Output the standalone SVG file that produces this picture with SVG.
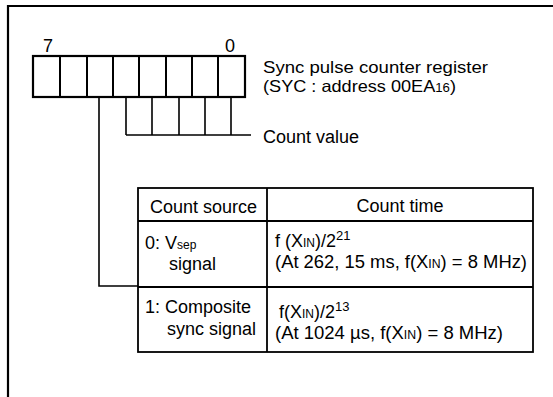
<svg xmlns="http://www.w3.org/2000/svg" width="553" height="397" viewBox="0 0 553 397">
<style>
text{font-family:"Liberation Sans",Arial,sans-serif;font-size:18px;fill:#000}
.t{font-size:16.5px}
.sm{font-size:12px}
.sup{font-size:13px}
.frame{fill:none;stroke:#000;stroke-width:2.2}
.reg{fill:#fff;stroke:#000;stroke-width:2.2}
.div{stroke:#000;stroke-width:2}
.ln{fill:none;stroke:#000;stroke-width:1.6}
.tb{fill:none;stroke:#000;stroke-width:1.8}
</style>
<rect width="553" height="397" fill="#fff"/>
<path class="frame" d="M8,397 V6 H553"/>
<g id="register">
<rect class="reg" x="33" y="56" width="212" height="41"/>
<path class="div" d="M60,56V97M87,56V97M113,56V97M139,56V97M166,56V97M192,56V97M218,56V97"/>
<text x="43" y="52">7</text>
<text x="225" y="52">0</text>
</g>
<g id="register-label">
<text class="t" x="263" y="73" textLength="225" lengthAdjust="spacingAndGlyphs">Sync pulse counter register</text>
<text class="t" x="263" y="91.5" textLength="193" lengthAdjust="spacingAndGlyphs">(SYC : address 00EA<tspan class="sm">16</tspan>)</text>
</g>
<g id="connectors">
<path class="ln" d="M126,97V135M152,97V135M179,97V135M205,97V135M231,97V135M126,135H251"/>
<path class="ln" d="M99,97V286H138"/>
</g>
<g id="count-value">
<text x="263" y="143">Count value</text>
</g>
<g id="table">
<rect class="tb" x="138" y="188" width="395" height="164"/>
<path class="tb" d="M267,188V352M138,221H533M138,287H533"/>
<text x="150" y="213">Count source</text>
<text x="400" y="212" text-anchor="middle">Count time</text>
<text x="145" y="249">0: V<tspan class="sm">sep</tspan></text>
<text x="169" y="270">signal</text>
<text x="145" y="313">1: Composite</text>
<text x="167" y="335">sync signal</text>
<text x="275" y="247">f (X<tspan class="sm">IN</tspan>)/2<tspan class="sup" dy="-7">21</tspan></text>
<text x="275" y="268" textLength="252" lengthAdjust="spacingAndGlyphs">(At 262, 15 ms, f(X<tspan class="sm">IN</tspan>) = 8 MHz)</text>
<text x="279" y="318">f(X<tspan class="sm">IN</tspan>)/2<tspan class="sup" dy="-7">13</tspan></text>
<text x="275" y="339" textLength="228" lengthAdjust="spacingAndGlyphs">(At 1024 µs, f(X<tspan class="sm">IN</tspan>) = 8 MHz)</text>
</g>
</svg>
